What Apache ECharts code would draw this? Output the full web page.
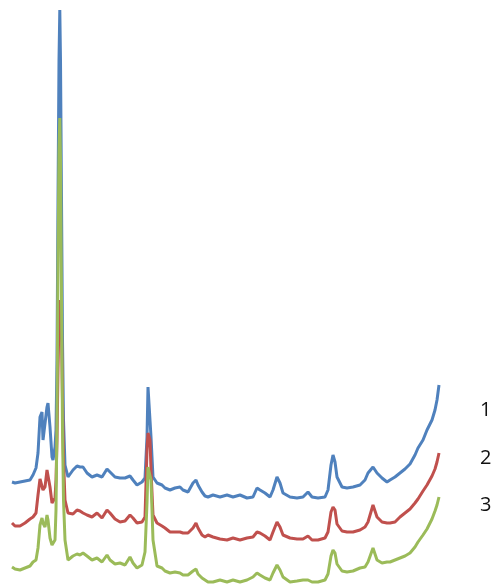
<!DOCTYPE html>
<html>
<head>
<meta charset="utf-8">
<script src="https://cdn.jsdelivr.net/npm/echarts@6/dist/echarts.min.js"></script>
<style>
  html, body { margin: 0; padding: 0; background: #fff; }
  #myChart { width: 496px; height: 586px; }
</style>
</head>
<body>
<div id="myChart"></div>
<script>
// 2-theta positions shared by all three patterns
const twoTheta = [
  2.4, 3.0, 4.0, 5.0, 6.0, 6.6, 7.2, 7.6, 8.0, 8.4, 8.6, 9.0, 9.4, 9.6, 10.0, 10.4, 10.6, 11.0, 11.2, 11.4,
  11.6, 11.8, 11.96, 12.1, 12.3, 12.5, 12.7, 13.0, 13.6, 14.6, 15.4, 16.0, 16.6, 17.4, 18.4, 19.4, 20.4, 21.4, 22.0, 23.0,
  24.0, 25.0, 26.0, 26.6, 27.4, 28.4, 29.0, 29.4, 29.6, 30.0, 30.2, 30.6, 31.4, 32.4, 33.0, 34.0, 35.0, 36.0, 36.6, 37.6,
  38.6, 39.2, 39.6, 40.4, 41.0, 41.6, 42.6, 44.0, 45.4, 46.6, 48.0, 49.4, 50.6, 51.4, 52.0, 53.0, 54.0, 54.6, 55.4, 56.0,
  56.6, 58.0, 59.4, 60.6, 61.6, 62.4, 63.6, 65.0, 65.6, 66.2, 66.6, 67.0, 67.4, 68.4, 69.4, 70.6, 72.0, 73.0, 73.6, 74.6,
  75.4, 76.4, 77.4, 78.0, 79.0, 80.0, 81.0, 82.0, 83.0, 83.6, 84.6, 85.4, 86.4, 87.0, 87.4, 87.8
];

const sample1 = [
  1040, 1030, 1040, 1050, 1060, 1110, 1180, 1330, 1690, 1740, 1460, 1440, 1790, 1830, 1590, 1290, 1260, 1390, 1560, 2260,
  3860, 5260, 5760, 5260, 3860, 2460, 1660, 1210, 1090, 1160, 1200, 1190, 1190, 1130, 1090, 1110, 1090, 1170, 1140, 1090,
  1080, 1080, 1100, 1060, 1010, 1040, 1080, 1490, 1990, 1990, 1490, 1090, 1030, 1010, 980, 960, 980, 990, 960, 940,
  1030, 1060, 1010, 940, 900, 890, 910, 890, 910, 890, 910, 880, 890, 980, 960, 930, 890, 960, 1090, 1030,
  930, 890, 880, 890, 940, 890, 880, 890, 960, 1210, 1310, 1240, 1090, 990, 980, 990, 1010, 1060, 1130, 1190,
  1130, 1080, 1040, 1060, 1090, 1130, 1170, 1220, 1310, 1380, 1460, 1560, 1660, 1760, 1860, 2010
];

const sample2 = [
  630, 600, 600, 630, 670, 690, 730, 910, 1070, 1080, 960, 990, 1160, 1140, 990, 830, 830, 880, 1060, 1460,
  2160, 2660, 2860, 2840, 2560, 1860, 1260, 860, 730, 720, 760, 750, 730, 710, 690, 730, 680, 760, 730, 670,
  640, 650, 710, 680, 630, 640, 690, 1360, 1530, 1460, 1160, 710, 630, 600, 580, 540, 540, 540, 530, 530,
  580, 630, 580, 510, 490, 510, 490, 470, 460, 480, 460, 480, 490, 540, 530, 500, 460, 540, 640, 590,
  510, 480, 470, 470, 500, 460, 460, 480, 540, 740, 790, 760, 620, 550, 540, 540, 560, 590, 640, 810,
  690, 640, 630, 630, 640, 690, 730, 770, 830, 870, 950, 1010, 1100, 1170, 1240, 1330
];

const sample3 = [
  190, 170, 160, 180, 200, 240, 260, 380, 610, 680, 630, 590, 710, 660, 480, 410, 410, 460, 760, 1660,
  3260, 4360, 4680, 4260, 2860, 1560, 860, 460, 260, 300, 320, 310, 330, 300, 260, 280, 240, 310, 260, 220,
  230, 210, 290, 230, 180, 210, 340, 830, 1190, 1210, 1060, 460, 200, 180, 150, 130, 140, 130, 110, 110,
  150, 170, 120, 80, 60, 40, 40, 60, 40, 60, 40, 60, 90, 130, 110, 80, 60, 130, 210, 160,
  90, 40, 50, 60, 60, 40, 40, 60, 120, 300, 360, 330, 220, 150, 140, 150, 180, 190, 240, 380,
  260, 230, 240, 240, 260, 280, 300, 330, 390, 440, 510, 570, 670, 750, 810, 890
];

const seriesNames = ['1', '2', '3'];
const seriesColors = ['#4F81BD', '#C0504D', '#9BBB59'];
const allSamples = [sample1, sample2, sample3];

const myChart = echarts.init(document.getElementById('myChart'));

const option = {
    animation: false,
    grid: { left: 0, right: 46, top: 0, bottom: 0 },
    xAxis: {
        type: 'value',
        min: 0,
        max: 90,
        show: false
    },
    yAxis: {
        type: 'value',
        min: 0,
        max: 5860,
        show: false
    },
    graphic: [
        { type: 'text', left: 480, top: 400, style: { text: '1', font: '20px "Open Sans"', fill: '#111' } },
        { type: 'text', left: 480, top: 448, style: { text: '2', font: '20px "Open Sans"', fill: '#111' } },
        { type: 'text', left: 480, top: 495, style: { text: '3', font: '20px "Open Sans"', fill: '#111' } }
    ],
    series: allSamples.map(function (vals, i) {
        return {
            name: seriesNames[i],
            type: 'line',
            data: twoTheta.map(function (t, k) { return [t, vals[k]]; }),
            showSymbol: false,
            lineStyle: { color: seriesColors[i], width: 3 },
            z: 2 + i
        };
    })
};

myChart.setOption(option);
</script>
</body>
</html>
